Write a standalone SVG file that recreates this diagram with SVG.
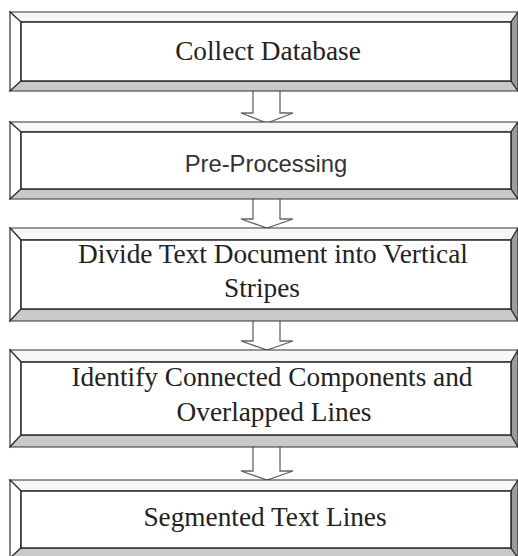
<svg xmlns="http://www.w3.org/2000/svg" width="518" height="556" viewBox="0 0 518 556">
<style>
.bt{fill:#f7f7f7;stroke:#333;stroke-width:1.2;stroke-linejoin:miter}
.bl{fill:#ffffff;stroke:#333;stroke-width:1.2}
.bb{fill:#c9c9c9;stroke:#333;stroke-width:1.2}
.br{fill:#9c9c9c;stroke:#333;stroke-width:1.2}
.in{fill:#ffffff;stroke:#2a2a2a;stroke-width:1.5}
.tx{font-family:"Liberation Serif","Times New Roman",serif;font-size:27.3px;fill:#222;text-anchor:middle}
.ts{font-family:"Liberation Sans",Arial,sans-serif;font-size:23.8px;fill:#333;text-anchor:middle}
.ar{fill:#ffffff;stroke:#666;stroke-width:1.3;stroke-linejoin:miter}
</style>
<rect width="518" height="556" fill="#ffffff"/>
<g id="connectors">
<path class="ar" d="M253,91 V113 H241 L267,123 L293,113 H280 V91"/>
<path class="ar" d="M253,199 V219 H241 L267,228 L293,219 H280 V199"/>
<path class="ar" d="M253,321 V341 H241 L267,350 L293,341 H280 V321"/>
<path class="ar" d="M253,447 V471 H241 L267,480 L293,471 H280 V447"/>
</g>
<g id="n1">
<polygon class="bt" points="10,12 518,12 511,22 21,22"/>
<polygon class="bl" points="10,12 21,22 21,81 10,91"/>
<polygon class="bb" points="10,91 21,81 511,81 518,91"/>
<polygon class="br" points="518,12 518,91 511,81 511,22"/>
<rect class="in" x="21" y="22" width="490" height="59"/>
<text class="tx" x="268" y="60">Collect Database</text>
</g>
<g id="n2">
<polygon class="bt" points="10,122 518,122 511,132 21,132"/>
<polygon class="bl" points="10,122 21,132 21,189 10,199"/>
<polygon class="bb" points="10,199 21,189 511,189 518,199"/>
<polygon class="br" points="518,122 518,199 511,189 511,132"/>
<rect class="in" x="21" y="132" width="490" height="57"/>
<text class="ts" x="266" y="172">Pre-Processing</text>
</g>
<g id="n3">
<polygon class="bt" points="10,228 518,228 511,240 21,240"/>
<polygon class="bl" points="10,228 21,240 21,309 10,321"/>
<polygon class="bb" points="10,321 21,309 511,309 518,321"/>
<polygon class="br" points="518,228 518,321 511,309 511,240"/>
<rect class="in" x="21" y="240" width="490" height="69"/>
<text class="tx" x="273" y="263">Divide Text Document into Vertical</text>
<text class="tx" x="262" y="297">Stripes</text>
</g>
<g id="n4">
<polygon class="bt" points="10,350 518,350 511,362 21,362"/>
<polygon class="bl" points="10,350 21,362 21,435 10,447"/>
<polygon class="bb" points="10,447 21,435 511,435 518,447"/>
<polygon class="br" points="518,350 518,447 511,435 511,362"/>
<rect class="in" x="21" y="362" width="490" height="73"/>
<text class="tx" x="272" y="386">Identify Connected Components and</text>
<text class="tx" x="274" y="421">Overlapped Lines</text>
</g>
<g id="n5">
<polygon class="bt" points="10,480 518,480 511,491 21,491"/>
<polygon class="bl" points="10,480 21,491 21,548 10,558"/>
<polygon class="bb" points="10,558 21,548 511,548 518,558"/>
<polygon class="br" points="518,480 518,558 511,548 511,491"/>
<rect class="in" x="21" y="491" width="490" height="57"/>
<text class="tx" x="265" y="526">Segmented Text Lines</text>
</g>
</svg>
